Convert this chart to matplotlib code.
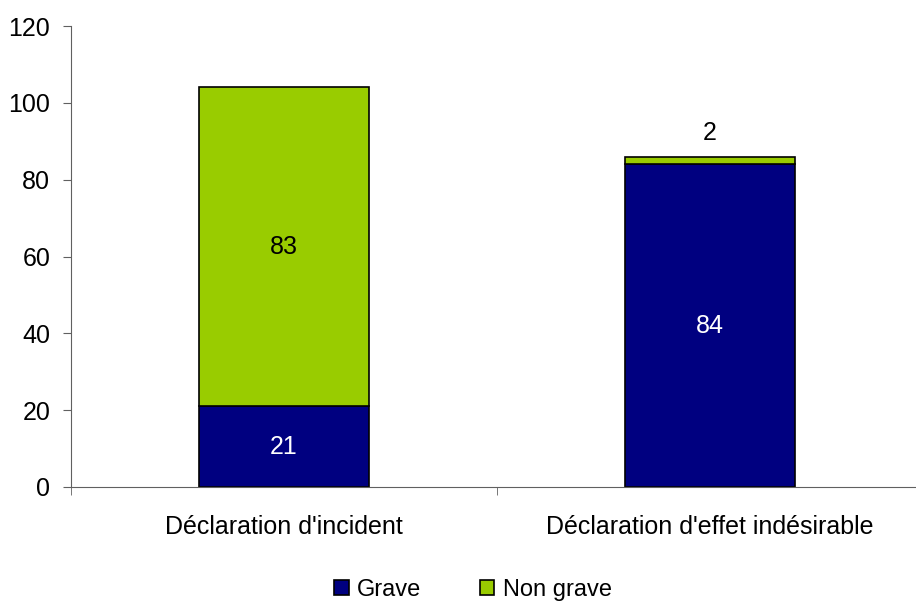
import matplotlib.pyplot as plt
import numpy as np

plt.rcParams['font.family'] = ['Liberation Sans', 'DejaVu Sans']

categories = ["Déclaration d'incident", "Déclaration d'effet indésirable"]
grave = [21, 84]
non_grave = [83, 2]
series_names = ['Grave', 'Non grave']
colors = ['#000080', '#99cc00']
yticks = [0, 20, 40, 60, 80, 100, 120]

fig = plt.figure(figsize=(9.16, 6.01), dpi=100)
ax = fig.add_axes([71 / 916, 114 / 601, 852 / 916, 461 / 601])

x = np.arange(len(categories))
b1 = ax.bar(x, grave, width=0.4, color=colors[0], edgecolor='black', linewidth=1.2, label=series_names[0])
b2 = ax.bar(x, non_grave, width=0.4, bottom=grave, color=colors[1], edgecolor='black', linewidth=1.2,
            label=series_names[1])

fs = 18

# value labels
for i in range(len(categories)):
    ax.text(x[i], grave[i] / 2, str(grave[i]), ha='center', va='center', fontsize=fs, color='white')
    if non_grave[i] > 10:
        ax.text(x[i], grave[i] + non_grave[i] / 2, str(non_grave[i]), ha='center', va='center', fontsize=fs,
                color='black')
    else:
        ax.text(x[i], grave[i] + non_grave[i] + 3, str(non_grave[i]), ha='center', va='bottom', fontsize=fs,
                color='black')

ax.set_xlim(-0.5, len(categories) - 0.5)
ax.set_ylim(0, 120)
ax.set_yticks(yticks)
ax.tick_params(axis='y', labelsize=fs, length=6, color='#606060', pad=9)

ax.set_xticks(x)
ax.set_xticklabels(categories, fontsize=fs)
ax.tick_params(axis='x', which='major', length=0, pad=20)
ax.set_xticks(np.arange(len(categories) + 1) - 0.5, minor=True)
ax.tick_params(axis='x', which='minor', length=6, color='#606060')

for s in ['top', 'right']:
    ax.spines[s].set_visible(False)
ax.spines['left'].set_color('#606060')
ax.spines['bottom'].set_color('#606060')

fig.legend(handles=[b1, b2], loc='center', bbox_to_anchor=(473 / 916, 1 - 590 / 601), ncol=2,
           frameon=False, fontsize=17, handlelength=0.6, handleheight=0.6, columnspacing=2.5, handletextpad=0.35)

fig.savefig('out.png', dpi=100)
